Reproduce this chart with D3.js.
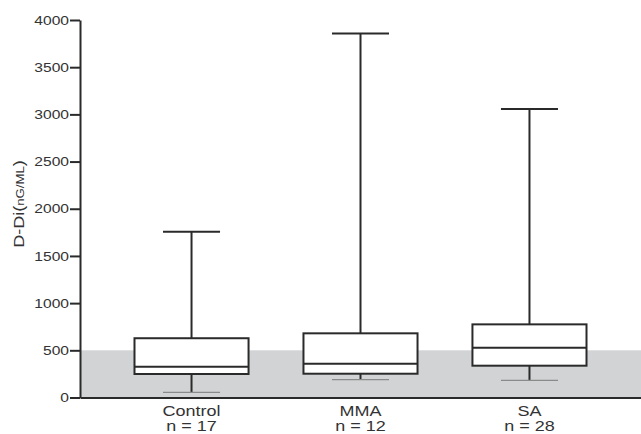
<!DOCTYPE html>
<html>
<head>
<meta charset="utf-8">
<script src="https://cdn.jsdelivr.net/npm/d3@7"></script>
<style>
  html, body { margin: 0; padding: 0; background: #fff; }
  svg { display: block; font-family: "Liberation Sans", Arial, Helvetica, sans-serif; }
</style>
</head>
<body>
<svg id="chart" width="641" height="434"></svg>
<script>
// ---- data ----
const categories = ["Control", "MMA", "SA"];
const nLabels = ["n = 17", "n = 12", "n = 28"];
const mins = [55, 189, 182];
const q1s = [249, 252, 337];
const medians = [327, 358, 528];
const q3s = [628, 680, 775];
const maxs = [1757, 3856, 3057];
const yTicks = [0, 500, 1000, 1500, 2000, 2500, 3000, 3500, 4000];
const refBand = [0, 500];

(function () {
const svg = d3.select("#chart");
const W = 641, plotLeft = 80, plotTop = 20, plotBottom = 397.5;
const textColor = "#333";
const lineColor = "#2a2a2a";
const sx = 1.2; // horizontal text stretch seen in the reference

const x = d3.scalePoint().domain(categories).range([plotLeft, W]).padding(0.66);
const y = d3.scaleLinear().domain([0, 4000]).range([plotBottom, plotTop]);
const boxW = x.step() * 0.675;
const capW = boxW / 2;

// reference band
svg.append("rect")
  .attr("x", plotLeft).attr("y", y(refBand[1]))
  .attr("width", W - plotLeft).attr("height", y(refBand[0]) - y(refBand[1]))
  .attr("fill", "#d1d3d4");

const data = categories.map((c, i) => ({
  c, n: nLabels[i], min: mins[i], q1: q1s[i], med: medians[i], q3: q3s[i], max: maxs[i]
}));

const g = svg.append("g");
const box = g.selectAll("g.box").data(data).join("g").attr("class", "box");

// whiskers
box.append("line")
  .attr("x1", d => x(d.c)).attr("x2", d => x(d.c))
  .attr("y1", d => y(d.q3)).attr("y2", d => y(d.max))
  .attr("stroke", lineColor).attr("stroke-width", 2);
box.append("line")
  .attr("x1", d => x(d.c)).attr("x2", d => x(d.c))
  .attr("y1", d => y(d.q1)).attr("y2", d => y(d.min))
  .attr("stroke", lineColor).attr("stroke-width", 2);
// upper caps
box.append("line")
  .attr("x1", d => x(d.c) - capW / 2).attr("x2", d => x(d.c) + capW / 2)
  .attr("y1", d => y(d.max)).attr("y2", d => y(d.max))
  .attr("stroke", lineColor).attr("stroke-width", 2);
// lower caps (thin grey)
box.append("line")
  .attr("x1", d => x(d.c) - capW / 2).attr("x2", d => x(d.c) + capW / 2)
  .attr("y1", d => y(d.min)).attr("y2", d => y(d.min))
  .attr("stroke", "#8a8a8a").attr("stroke-width", 1.2);
// boxes
box.append("rect")
  .attr("x", d => x(d.c) - boxW / 2).attr("width", boxW)
  .attr("y", d => y(d.q3)).attr("height", d => y(d.q1) - y(d.q3))
  .attr("fill", "#fff").attr("stroke", lineColor).attr("stroke-width", 2);
// medians
box.append("line")
  .attr("x1", d => x(d.c) - boxW / 2).attr("x2", d => x(d.c) + boxW / 2)
  .attr("y1", d => y(d.med)).attr("y2", d => y(d.med))
  .attr("stroke", lineColor).attr("stroke-width", 2);

// y axis
const yAxis = svg.append("g")
  .attr("transform", `translate(${plotLeft},0)`)
  .call(d3.axisLeft(y).tickValues(yTicks).tickSize(10).tickSizeOuter(0).tickPadding(1).tickFormat(d3.format("d")));
yAxis.select(".domain").attr("stroke", lineColor).attr("stroke-width", 2);
yAxis.selectAll(".tick line").attr("stroke", lineColor).attr("stroke-width", 2);
yAxis.selectAll(".tick text")
  .attr("x", -11 / sx)
  .attr("transform", `scale(${sx},1)`)
  .attr("fill", textColor)
  .style("font-size", "13px")
  .style("font-family", "'Liberation Sans', Arial, sans-serif");

// x axis
const xAxis = svg.append("g")
  .attr("transform", `translate(0,${y(0)})`)
  .call(d3.axisBottom(x).tickSize(0).tickSizeOuter(0).tickFormat(""));
xAxis.select(".domain").attr("stroke", lineColor).attr("stroke-width", 2);

// category labels
const lab = svg.selectAll("g.lab").data(data).join("g")
  .attr("class", "lab")
  .attr("transform", d => `translate(${x(d.c)},0)`);
lab.append("text")
  .attr("transform", `scale(${sx},1)`)
  .attr("y", 416).attr("text-anchor", "middle")
  .attr("fill", textColor).style("font-size", "15px")
  .text(d => d.c);
lab.append("text")
  .attr("transform", `scale(${sx},1)`)
  .attr("y", 431.5).attr("text-anchor", "middle")
  .attr("fill", textColor).style("font-size", "15px")
  .text(d => d.n);

// y label
const yl = svg.append("g").attr("transform", "translate(24,204) rotate(-90)")
  .append("text")
  .attr("transform", `scale(${sx},1)`)
  .attr("text-anchor", "middle")
  .attr("fill", textColor)
  .style("font-size", "15px");
yl.append("tspan").text("D-Di(");
yl.append("tspan").style("font-size", "11px").text("nG/ML");
yl.append("tspan").text(")");
})();
</script>
</body>
</html>
